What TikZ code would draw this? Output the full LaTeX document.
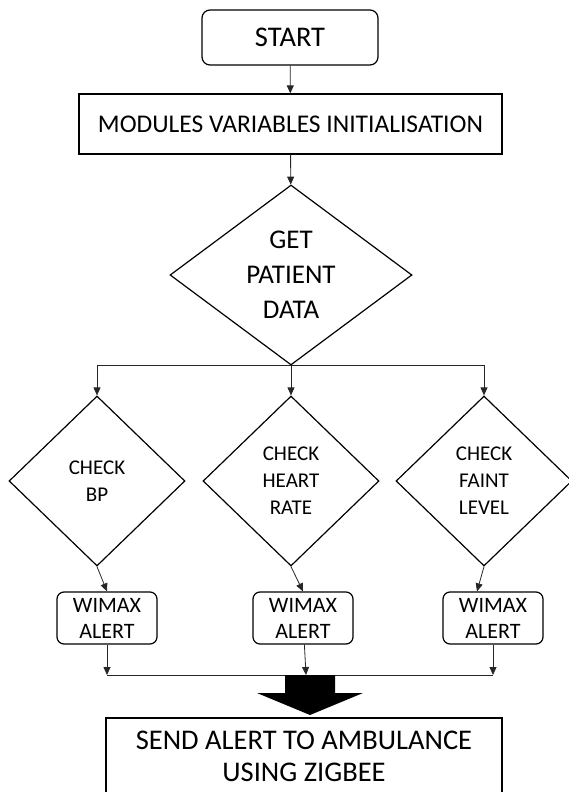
\documentclass[tikz,border=0pt]{standalone}
\usepackage{fontspec}
\setmainfont{Carlito}
\usetikzlibrary{shapes.geometric,arrows.meta}
\begin{document}
\begin{tikzpicture}[x=1pt,y=-1pt,>={Triangle[length=8pt,width=7pt]}]

     \tikzstyle{box}=[draw=black,line width=1.2pt,inner sep=0pt,align=center]
     \tikzstyle{rbox}=[box,rounded corners=8pt]
     \tikzstyle{dec}=[box,diamond]
     \tikzstyle{line}=[draw=black!85,line width=0.8pt]

     \useasboundingbox (0,0) rectangle (568,792);

      \begin{scope}
         \node[rbox,minimum width=176pt,minimum height=55pt,font=\fontsize{28.5}{32}\selectfont] (start) at (290,37.5) {START};
         \node[box,minimum width=423pt,minimum height=60pt,font=\fontsize{25.5}{30}\selectfont] (init) at (290.5,124) {MODULES VARIABLES INITIALISATION};

         \node[dec,aspect=1.34,minimum width=242pt,minimum height=180pt,font=\fontsize{27}{35}\selectfont] (getdata) at (291,275) {GET\\PATIENT\\DATA};

         \node[dec,aspect=1.03,minimum width=176pt,minimum height=170pt,font=\fontsize{21}{27}\selectfont] (chkbp) at (97,481) {CHECK\\BP};
         \node[dec,aspect=1.03,minimum width=176pt,minimum height=170pt,font=\fontsize{21}{27}\selectfont] (chkhr) at (291,481) {CHECK\\HEART\\RATE};
         \node[dec,aspect=1.03,minimum width=176pt,minimum height=170pt,font=\fontsize{21}{27}\selectfont] (chkfl) at (484,481) {CHECK\\FAINT\\LEVEL};

         \node[rbox,rounded corners=7pt,minimum width=100pt,minimum height=52pt,font=\fontsize{22}{26}\selectfont] (wbp) at (107,618) {WIMAX\\ALERT};
         \node[rbox,rounded corners=7pt,minimum width=100pt,minimum height=52pt,font=\fontsize{22}{26}\selectfont] (whr) at (303,618) {WIMAX\\ALERT};
         \node[rbox,rounded corners=7pt,minimum width=100pt,minimum height=52pt,font=\fontsize{22}{26}\selectfont] (wfl) at (493,618) {WIMAX\\ALERT};

         \node[box,minimum width=396pt,minimum height=76pt,font=\fontsize{28.5}{32}\selectfont] (send) at (304,756) {SEND ALERT TO AMBULANCE\\USING ZIGBEE};

         \coordinate (j1) at (107,675);
         \coordinate (j2) at (306,675);
         \coordinate (j3) at (493,675);
         \coordinate (bk) at (310,675);

         \draw[line,->] (start) to (init);
         \draw[line,->] (init) to (getdata);
         \draw[line,->] (getdata.south) -| (chkbp);
         \draw[line,->] (getdata) to (chkhr);
         \draw[line,->] (getdata.south) -| (chkfl);

         \draw[line,->] (chkbp.south) to (wbp.north);
         \draw[line,->] (chkhr.south) to (whr.north);
         \draw[line,->] (chkfl.south) to ([xshift=-16pt]wfl.north);

         \draw[line,->] (wbp) to (j1);
         \draw[line,->] (whr) to (j2);
         \draw[line,->] (wfl) to (j3);
         \draw[line] (j1) to (j3);

         % block arrow down to the last box
         \fill[black] (bk) +(-25,0) -- +(25,0) -- +(25,18) -- +(53,18) -- +(0,40) -- +(-53,18) -- +(-25,18) -- cycle;
      \end{scope}
  \end{tikzpicture}
\end{document}
